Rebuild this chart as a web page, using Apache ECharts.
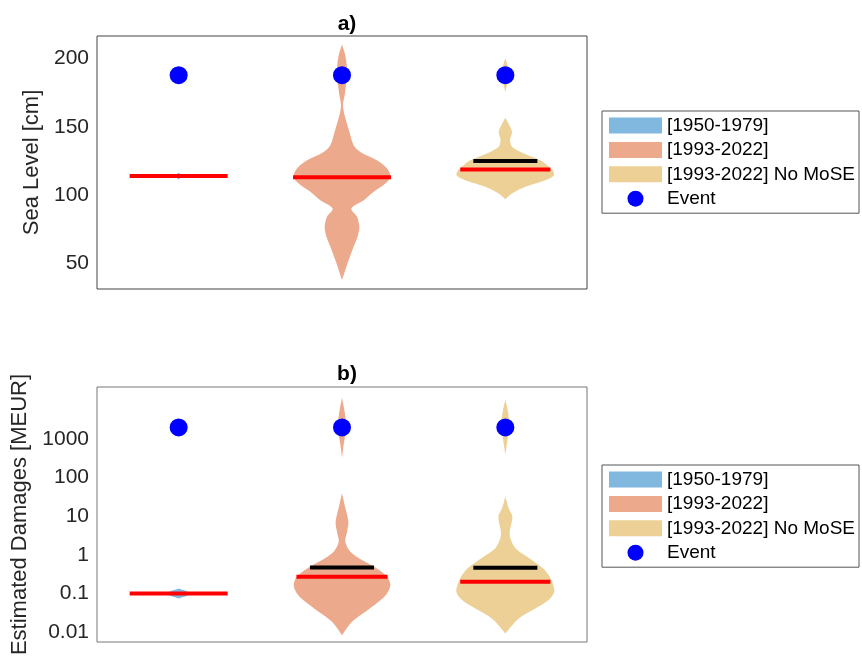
<!DOCTYPE html>
<html>
<head>
<meta charset="utf-8">
<script src="https://cdn.jsdelivr.net/npm/echarts@6/dist/echarts.min.js"></script>
<style>
  html, body { margin: 0; padding: 0; background: #fff; }
  #chart { width: 862px; height: 666px; }
</style>
</head>
<body>
<div id="chart"></div>
<script>
// categories (one violin each)
const categories = ['[1950-1979]', '[1993-2022]', '[1993-2022] No MoSE'];
const eventName = 'Event';

// panel a) sea level [cm] : violin profiles (level, half width in category units)
const seaLevel1 = [111.5, 114, 116.5];
const seaWidth1 = [0, 0.025, 0];
const seaLevel2 = [210.2, 202.4, 195.1, 187.8, 180.5, 173.1, 165.9, 158.5, 146.4, 136.6, 131.7, 125.6, 119.5, 113.4, 108.6, 102.5, 96.4, 90.3, 84.2, 76.9, 70.8, 61.1, 51.3, 37.9];
const seaWidth2 = [0, 0.020, 0.029, 0.031, 0.024, 0.016, 0.006, 0.016, 0.045, 0.071, 0.112, 0.214, 0.276, 0.296, 0.265, 0.194, 0.133, 0.057, 0.092, 0.106, 0.098, 0.067, 0.037, 0];
const seaLevel3 = [200.0, 193.9, 187.8, 181.7, 175.6, 156.6, 151.2, 146.4, 140.3, 135.4, 131.7, 128.1, 125.2, 122.0, 118.8, 114.7, 111.0, 106.2, 101.3, 97.1];
const seaWidth3 = [0, 0.016, 0.020, 0.012, 0, 0, 0.024, 0.041, 0.029, 0.041, 0.092, 0.163, 0.220, 0.255, 0.286, 0.298, 0.245, 0.122, 0.041, 0];
const seaMedian = [114, 113.2, 118.9];
const seaMean = [null, null, 125.1];
const seaEvent = [187.8, 187.8, 187.8];
const seaTicks = [50, 100, 150, 200];

// panel b) estimated damages [MEUR]
const damageLevel1 = [0.074, 0.1, 0.135];
const damageWidth1 = [0, 0.076, 0];
const damageLevel2 = [12050, 5212, 2871, 2004, 1291, 711, 333, 39.4, 19.6, 7.24, 3.99, 2.19, 1.21, 0.733, 0.472, 0.270, 0.164, 0.0998, 0.0605, 0.0333, 0.0183, 0.00824];
const damageWidth2 = [0, 0.016, 0.024, 0.027, 0.020, 0.010, 0, 0, 0.016, 0.039, 0.031, 0.020, 0.051, 0.122, 0.204, 0.276, 0.296, 0.276, 0.224, 0.143, 0.061, 0];
const damageLevel3 = [10470, 5212, 3170, 2042, 1291, 867, 391, 32.4, 16.1, 9.78, 3.98, 2.67, 1.47, 0.894, 0.462, 0.298, 0.200, 0.110, 0.0670, 0.0407, 0.0223, 0.00912];
const damageWidth3 = [0, 0.016, 0.022, 0.024, 0.018, 0.012, 0, 0, 0.020, 0.043, 0.027, 0.031, 0.061, 0.133, 0.227, 0.265, 0.286, 0.300, 0.265, 0.184, 0.082, 0];
const damageMedian = [0.1, 0.27, 0.2];
const damageMean = [null, 0.47, 0.46];
const damageEvent = [2000, 2000, 2000];
const damageTicks = [0.01, 0.1, 1, 10, 100, 1000];

// styles
const violinColors = ['#80B8E0', '#ECA98C', '#ECD096'];
const medianHalf = [[0.30, 0.30, 0.276], [0.30, 0.279, 0.276]];
const meanHalf = 0.196;
const fontFamily = '"Liberation Sans", Helvetica, Arial, sans-serif';

// split a profile where two zero widths follow each other (separate blobs)
function pieces(levels, widths) {
  let out = [], cur = [];
  for (let i = 0; i < levels.length; i++) {
    if (i > 0 && widths[i] === 0 && widths[i - 1] === 0) {
      out.push(cur);
      cur = [];
    }
    cur.push(i);
  }
  out.push(cur);
  return out;
}

function violin(gridIdx, cat, levels, widths, median, mean) {
  return {
    type: 'custom',
    name: categories[cat],
    xAxisIndex: gridIdx,
    yAxisIndex: gridIdx,
    itemStyle: { color: violinColors[cat] },
    data: [[cat + 1, median]],
    z: 2,
    renderItem: function (params, api) {
      let x = api.value(0);
      let children = pieces(levels, widths).map(idx => {
        let right = idx.map(i => api.coord([x + widths[i], levels[i]]));
        let left = idx.map(i => api.coord([x - widths[i], levels[i]])).reverse();
        return {
          type: 'polygon',
          shape: { points: right.concat(left), smooth: 0.3 },
          style: { fill: violinColors[cat], stroke: null }
        };
      });
      if (mean != null) {
        let a = api.coord([x - meanHalf, mean]), b = api.coord([x + meanHalf, mean]);
        children.push({ type: 'line', shape: { x1: a[0], y1: a[1], x2: b[0], y2: b[1] }, style: { stroke: '#000', lineWidth: 4 } });
      }
      let h = medianHalf[gridIdx][cat];
      let m1 = api.coord([x - h, median]), m2 = api.coord([x + h, median]);
      children.push({ type: 'line', shape: { x1: m1[0], y1: m1[1], x2: m2[0], y2: m2[1] }, style: { stroke: '#ff0000', lineWidth: 4 } });
      return { type: 'group', children: children };
    }
  };
}

function eventSeries(gridIdx, values) {
  return {
    type: 'scatter',
    name: eventName,
    xAxisIndex: gridIdx,
    yAxisIndex: gridIdx,
    symbol: 'circle',
    symbolSize: 18,
    itemStyle: { color: '#0000ff', opacity: 1 },
    data: values.map((v, i) => [i + 1, v]),
    z: 5
  };
}

function legend(top, border) {
  return {
    orient: 'vertical',
    left: 602,
    top: top,
    itemWidth: 53,
    itemHeight: 16,
    itemGap: 5.4,
    padding: [5, 4, 5, 7],
    borderColor: border,
    borderWidth: 1,
    borderRadius: 0,
    selectedMode: false,
    textStyle: { fontFamily: fontFamily, fontSize: 19, color: '#000', lineHeight: 19 },
    data: categories.map(c => ({ name: c, icon: 'rect' })).concat([{ name: eventName, icon: 'circle' }])
  };
}

let chart = echarts.init(document.getElementById('chart'));
chart.setOption({
  animation: false,
  backgroundColor: '#fff',
  title: [
    { text: 'a)', left: 342, top: 9, textAlign: 'center', textStyle: { fontFamily: fontFamily, fontSize: 21, fontWeight: 'bold', color: '#000' } },
    { text: 'b)', left: 342, top: 359, textAlign: 'center', textStyle: { fontFamily: fontFamily, fontSize: 21, fontWeight: 'bold', color: '#000' } }
  ],
  legend: [legend(111, '#555'), legend(465, '#555')],
  grid: [
    { left: 97, top: 36, width: 490, height: 253, show: true, borderColor: '#444', borderWidth: 1, backgroundColor: 'transparent' },
    { left: 97, top: 387, width: 490, height: 255, show: true, borderColor: '#777', borderWidth: 1, backgroundColor: 'transparent' }
  ],
  xAxis: [
    { type: 'value', gridIndex: 0, min: 0.5, max: 3.5, show: false },
    { type: 'value', gridIndex: 1, min: 0.5, max: 3.5, show: false }
  ],
  yAxis: [
    {
      type: 'value', gridIndex: 0, min: 31.4, max: 216.5, splitNumber: 4,
      name: 'Sea Level [cm]', nameLocation: 'middle', nameGap: 50,
      nameTextStyle: { fontFamily: fontFamily, fontSize: 22, color: '#262626' },
      axisLine: { show: false }, axisTick: { show: false }, splitLine: { show: false },
      axisLabel: {
        fontFamily: fontFamily, fontSize: 21, color: '#262626', margin: 8,
        showMinLabel: false, showMaxLabel: false,
        formatter: v => seaTicks.indexOf(v) >= 0 ? String(v) : ''
      }
    },
    {
      type: 'log', gridIndex: 1, logBase: 10, min: 0.0055, max: 22400,
      name: 'Estimated Damages [MEUR]', nameLocation: 'middle', nameGap: 58,
      nameTextStyle: { fontFamily: fontFamily, fontSize: 22, color: '#262626' },
      axisLine: { show: false }, axisTick: { show: false }, splitLine: { show: false },
      axisLabel: {
        fontFamily: fontFamily, fontSize: 21, color: '#262626', margin: 8,
        showMinLabel: false, showMaxLabel: false,
        formatter: function (v) {
          let t = damageTicks.find(d => Math.abs(Math.log10(v) - Math.log10(d)) < 1e-6);
          return t != null ? String(t) : '';
        }
      }
    }
  ],
  series: [
    violin(0, 0, seaLevel1, seaWidth1, seaMedian[0], seaMean[0]),
    violin(0, 1, seaLevel2, seaWidth2, seaMedian[1], seaMean[1]),
    violin(0, 2, seaLevel3, seaWidth3, seaMedian[2], seaMean[2]),
    eventSeries(0, seaEvent),
    violin(1, 0, damageLevel1, damageWidth1, damageMedian[0], damageMean[0]),
    violin(1, 1, damageLevel2, damageWidth2, damageMedian[1], damageMean[1]),
    violin(1, 2, damageLevel3, damageWidth3, damageMedian[2], damageMean[2]),
    eventSeries(1, damageEvent)
  ]
});
window.addEventListener('resize', () => { chart.resize(); });
</script>
</body>
</html>
